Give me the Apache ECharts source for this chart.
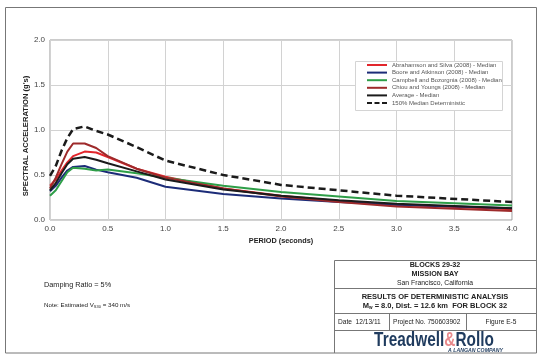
<!DOCTYPE html>
<html>
<head>
<meta charset="utf-8">
<script src="https://cdn.jsdelivr.net/npm/echarts@6/dist/echarts.min.js"></script>
<style>
html,body{margin:0;padding:0;background:#fff;}
#chart{width:544px;height:360px;}
</style>
</head>
<body>
<div id="chart"></div>
<script>
// Periods (seconds)
var periods = [0, 0.05, 0.1, 0.15, 0.2, 0.3, 0.4, 0.5, 0.75, 1.0, 1.5, 2.0, 2.5, 3.0, 4.0];
// Spectral acceleration (g)
var abrahamsonSilva = [0.38,0.45,0.55,0.64,0.71,0.76,0.75,0.70,0.57,0.48,0.35,0.27,0.21,0.17,0.12];
var booreAtkinson   = [0.32,0.38,0.47,0.55,0.59,0.60,0.56,0.53,0.47,0.37,0.29,0.24,0.20,0.17,0.13];
var campbellBozorgnia = [0.27,0.33,0.43,0.53,0.58,0.57,0.55,0.56,0.52,0.47,0.38,0.31,0.26,0.21,0.16];
var chiouYoungs     = [0.35,0.47,0.62,0.76,0.85,0.85,0.80,0.71,0.57,0.47,0.35,0.26,0.20,0.15,0.10];
var averageMedian   = [0.33,0.41,0.52,0.62,0.68,0.70,0.67,0.63,0.54,0.45,0.34,0.27,0.22,0.18,0.13];
var deterministic150 = [0.49,0.60,0.77,0.91,1.01,1.04,0.99,0.95,0.81,0.66,0.50,0.39,0.33,0.27,0.20];

var seriesNames = [
  'Abrahamson and Silva (2008) - Median',
  'Boore and Atkinson (2008) - Median',
  'Campbell and Bozorgnia (2008) - Median',
  'Chiou and Youngs (2008) - Median',
  'Average - Median',
  '150% Median Deterministic'
];
var xTicks = ['0.0','0.5','1.0','1.5','2.0','2.5','3.0','3.5','4.0'];
var yTicks = ['0.0','0.5','1.0','1.5','2.0'];

var seriesValues = [abrahamsonSilva, booreAtkinson, campbellBozorgnia, chiouYoungs, averageMedian, deterministic150];
var colors = ['#e2262c', '#1c2c78', '#2e9e48', '#9e2a2b', '#1b1b1b', '#1b1b1b'];

function pairs(vals){ return periods.map(function(p,i){ return [p, vals[i]]; }); }

var series = seriesValues.map(function(vals, i){
  return {
    name: seriesNames[i],
    type: 'line',
    data: pairs(vals),
    symbol: 'none',
    smooth: false,
    z: 2 + i,
    lineStyle: {
      color: colors[i],
      width: i === 5 ? 2.5 : 2,
      type: i === 5 ? [7, 4] : 'solid'
    },
    itemStyle: { color: colors[i] }
  };
});

var solidIcon = 'path://M0,0h20v2h-20z';
var dashIcon = 'path://M0,0h5v2h-5z M7.5,0h5v2h-5z M15,0h5v2h-5z';
var legendData = seriesNames.map(function(n, i){
  return { name: n, icon: i === 5 ? dashIcon : solidIcon };
});

var FONT = 'Liberation Sans, Arial, sans-serif';
var frameColor = '#777';

function line(x1,y1,x2,y2){
  return { type:'line', shape:{x1:x1,y1:y1,x2:x2,y2:y2}, style:{stroke:frameColor, lineWidth:1}, z:10, silent:true };
}
function text(str, x, y, size, weight, align, extra){
  var st = { text:str, x:x, y:y, font: (weight||'normal') + ' ' + size + 'px ' + FONT, fill:'#222', textAlign: align||'left', textVerticalAlign:'middle' };
  if (extra) for (var k in extra) st[k] = extra[k];
  return { type:'text', style: st, z:10, silent:true };
}

var graphics = [
  // outer frame
  { type:'rect', shape:{x:5.5,y:7.5,width:531,height:345.5}, style:{fill:null, stroke:frameColor, lineWidth:1}, z:10, silent:true },
  // legend box
  { type:'rect', shape:{x:355.5,y:61.5,width:147,height:49}, style:{fill:'#fff', stroke:'#d4d4d4', lineWidth:1}, z:3, silent:true },
  // y axis title
  { type:'text', z:10, silent:true, x:26, y:136, rotation:Math.PI/2, style:{
      text:"SPECTRAL ACCELERATION (g's)", x:0, y:0, textAlign:'center', textVerticalAlign:'middle',
      font:'bold 7.6px ' + FONT, fill:'#222' } },
  // title block
  line(334.5,260.5,536.5,260.5),
  line(334.5,260.5,334.5,353),
  line(334.5,288.5,536.5,288.5),
  line(334.5,313.5,536.5,313.5),
  line(334.5,330.5,536.5,330.5),
  line(389.5,313.5,389.5,330.5),
  line(466.5,313.5,466.5,330.5),
  text('BLOCKS 29-32', 435, 265, 7.2, 'bold', 'center'),
  text('MISSION BAY', 435, 274.5, 7.2, 'bold', 'center'),
  text('San Francisco, California', 435, 283.5, 6.8, 'normal', 'center'),
  text('RESULTS OF DETERMINISTIC ANALYSIS', 435, 296.5, 7.5, 'bold', 'center'),
  { type:'text', z:10, silent:true, style:{
      text:'{m|M}{s|w}{m| = 8.0, Dist. = 12.6 km  FOR BLOCK 32}', x:435, y:306, textAlign:'center', textVerticalAlign:'middle',
      rich:{ m:{font:'bold 7.5px ' + FONT, fill:'#222'}, s:{font:'bold 4.5px ' + FONT, fill:'#222', padding:[4,0,0,0]} }
  }},
  text('Date  12/13/11', 338, 322, 6.6, 'normal', 'left'),
  text('Project No. 750603902', 393, 322, 6.6, 'normal', 'left'),
  text('Figure E-5', 501, 322, 6.6, 'normal', 'center'),
  { type:'text', z:10, silent:true, x:434, y:340, scaleX:0.77, scaleY:1.05, style:{
      text:'{a|Treadwell}{b|&}{a|Rollo}', x:0, y:0, textAlign:'center', textVerticalAlign:'middle',
      rich:{ a:{font:'bold 20px ' + FONT, fill:'#1f3b5e'}, b:{font:'bold 20px ' + FONT, fill:'#e88a8c'} }
  }},
  text('A LANGAN COMPANY', 503, 350.5, 5.2, 'italic bold', 'right', {fill:'#1f3b5e'}),
  // left notes
  text('Damping Ratio = 5%', 44, 285, 7.3, 'normal', 'left'),
  { type:'text', z:10, silent:true, style:{
      text:'{m|Note: Estimated V}{s|S30}{m| = 340 m/s}', x:44, y:305, textAlign:'left', textVerticalAlign:'middle',
      rich:{ m:{font:'6.2px ' + FONT, fill:'#222'}, s:{font:'4px ' + FONT, fill:'#222', padding:[3,0,0,0]} }
  }}
];

var chart = echarts.init(document.getElementById('chart'), null, {renderer:'canvas'});
chart.setOption({
  backgroundColor: '#fff',
  animation: false,
  color: colors,
  grid: { left:50, top:40, width:462, height:180, show:true, borderColor:'#999', borderWidth:1, backgroundColor:'transparent' },
  xAxis: {
    type:'value', min:0, max:4, interval:0.5,
    name:'PERIOD (seconds)', nameLocation:'middle', nameGap:17,
    nameTextStyle:{ fontFamily:FONT, fontSize:7.3, fontWeight:'bold', color:'#222' },
    axisLine:{ show:false },
    axisTick:{ show:false },
    axisLabel:{ fontFamily:FONT, fontSize:8, color:'#444', margin:5, formatter:function(v){ return xTicks[Math.round(v/0.5)]; } },
    splitLine:{ show:true, lineStyle:{ color:'#d2d2d2', width:1 } }
  },
  yAxis: {
    type:'value', min:0, max:2, interval:0.5,
    axisLine:{ show:false },
    axisTick:{ show:false },
    axisLabel:{ fontFamily:FONT, fontSize:8, color:'#444', margin:5, formatter:function(v){ return yTicks[Math.round(v/0.5)]; } },
    splitLine:{ show:true, lineStyle:{ color:'#d2d2d2', width:1 } }
  },
  legend: {
    orient:'vertical', left:367, top:62, z:4, padding:0,
    itemWidth:20, itemHeight:2, itemGap:1.6,
    selectedMode:false,
    textStyle:{ fontFamily:FONT, fontSize:6, lineHeight:6, color:'#555' },
    data: legendData
  },
  graphic: graphics,
  series: series
});
</script>
</body>
</html>
